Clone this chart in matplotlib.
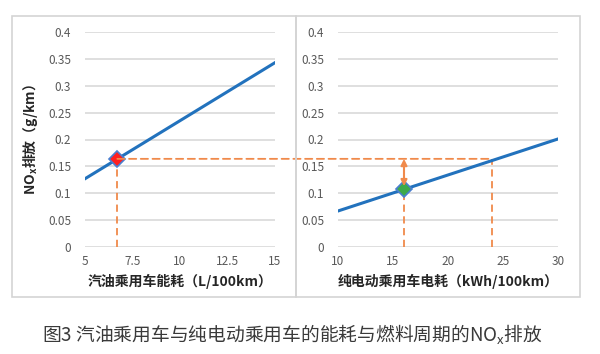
import matplotlib
matplotlib.use("Agg")
import matplotlib.pyplot as plt
from matplotlib.patches import Rectangle, ConnectionPatch

plt.rcParams['font.family'] = ['Noto Sans CJK SC', 'DejaVu Sans']

# ── data ─────────────────────────────────────────────────────────────────────
gas_x = [5, 15]            # L/100km
gas_y = [0.127, 0.343]     # g/km
ev_x = [10, 30]            # kWh/100km
ev_y = [0.067, 0.201]
gas_pt = (6.7, 0.164)
ev_pt = (16, 0.107)
ev_equiv_x = 24            # EV consumption giving same NOx as gasoline car

yticks = [0, 0.05, 0.1, 0.15, 0.2, 0.25, 0.3, 0.35, 0.4]
ylabels = ["0", "0.05", "0.1", "0.15", "0.2", "0.25", "0.3", "0.35", "0.4"]
gas_ticks = [5, 7.5, 10, 12.5, 15]
ev_ticks = [10, 15, 20, 25, 30]

# ── style ────────────────────────────────────────────────────────────────────
BLUE = "#2272bd"
ORANGE = "#f08a4b"
GRID = "#d9d9d9"
TICK = "#595959"
W, H = 600, 354


def px(x0, y0, x1, y1):
    return [x0 / W, 1 - y1 / H, (x1 - x0) / W, (y1 - y0) / H]


fig = plt.figure(figsize=(W / 100, H / 100), dpi=100)

# panel frames
for x0, x1 in [(12, 296), (296, 580)]:
    fig.patches.append(Rectangle((x0 / W, 1 - 297 / H), (x1 - x0) / W, 281 / H,
                                 transform=fig.transFigure, fill=False,
                                 edgecolor="#d4d4d4", linewidth=1.2))

ax1 = fig.add_axes(px(85, 32, 275, 247))
ax2 = fig.add_axes(px(338, 32, 558, 247))


def style(ax, xticks, xlim):
    ax.set_xlim(*xlim)
    ax.set_ylim(0, 0.4)
    ax.set_xticks(xticks)
    ax.set_xticklabels([f"{t:g}" for t in xticks])
    ax.set_yticks(yticks)
    ax.set_yticklabels(ylabels)
    ax.grid(axis="y", color=GRID, linewidth=1.2)
    ax.set_axisbelow(True)
    for s in ax.spines.values():
        s.set_visible(False)
    ax.tick_params(length=0, labelsize=8.5, labelcolor=TICK)
    ax.tick_params(axis="y", pad=10)
    ax.tick_params(axis="x", pad=6)


style(ax1, gas_ticks, (5, 15))
style(ax2, ev_ticks, (10, 30))

dash = dict(color=ORANGE, linestyle=(0, (4, 2.5)), linewidth=1.3)

# left panel
ax1.plot(gas_x, gas_y, color=BLUE, linewidth=2.2, zorder=3)
ax1.plot([gas_pt[0], gas_pt[0]], [0, gas_pt[1]], **dash, zorder=2)
ax1.plot(*gas_pt, marker="D", markersize=8, markerfacecolor="#ff2020",
         markeredgecolor="#4a7fd0", markeredgewidth=1.2, zorder=5)
ax1.set_xlabel("汽油乘用车能耗（L/100km）", fontsize=10, fontweight="bold",
               color="#262626", labelpad=4)
ax1.set_ylabel("NO$_{\\mathregular{x}}$排放（g/km）", fontsize=10, fontweight="bold",
               color="#262626", labelpad=6)

# right panel
ax2.plot(ev_x, ev_y, color=BLUE, linewidth=2.2, zorder=3)
ax2.plot([ev_pt[0], ev_pt[0]], [0, ev_pt[1]], **dash, zorder=2)
ax2.plot([ev_equiv_x, ev_equiv_x], [0, gas_pt[1]], **dash, zorder=2)
ax2.plot(*ev_pt, marker="D", markersize=8, markerfacecolor="#3daa4a",
         markeredgecolor="#4a7fd0", markeredgewidth=1.2, zorder=5)
ax2.annotate("", xy=(ev_pt[0], gas_pt[1]), xytext=(ev_pt[0], ev_pt[1] + 0.006),
             arrowprops=dict(arrowstyle="<|-|>", color=ORANGE, lw=1.5,
                             mutation_scale=9, shrinkA=0, shrinkB=0), zorder=6)
ax2.set_xlabel("纯电动乘用车电耗（kWh/100km）", fontsize=10, fontweight="bold",
               color="#262626", labelpad=4)

# horizontal dashed link across both panels
con = ConnectionPatch(xyA=gas_pt, coordsA=ax1.transData,
                      xyB=(ev_equiv_x, gas_pt[1]), coordsB=ax2.transData, **dash)
fig.add_artist(con)

fig.text(0.487, 1 - 335 / H, "图3 汽油乘用车与纯电动乘用车的能耗与燃料周期的NO$_{\\mathregular{x}}$排放",
         ha="center", va="center", fontsize=13.5, color="#3a3a3a")

fig.savefig("out.png", dpi=100)
